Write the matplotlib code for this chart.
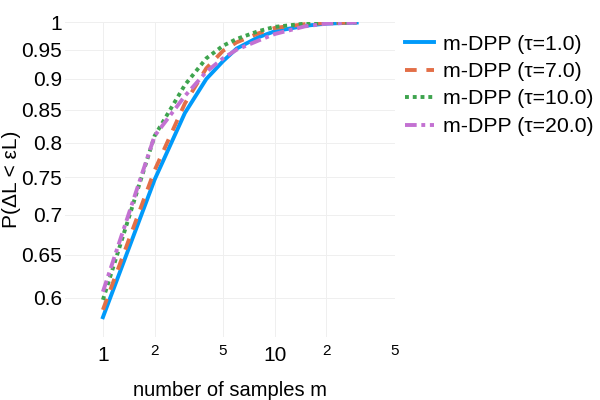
import numpy as np
import matplotlib
matplotlib.use('Agg')
import matplotlib.pyplot as plt
from matplotlib.ticker import FixedLocator, NullLocator

plt.rcParams['font.family'] = ['Liberation Sans', 'DejaVu Sans']

# number of samples m
m = [1, 2, 3, 4, 5, 6, 8, 10, 15, 20, 30]

p_tau1 = [0.579, 0.747, 0.845, 0.900, 0.930, 0.952, 0.972, 0.983, 0.993, 0.997, 0.999]
p_tau7 = [0.587, 0.760, 0.860, 0.918, 0.948, 0.963, 0.979, 0.989, 0.996, 0.998, 0.999]
p_tau10 = [0.598, 0.810, 0.890, 0.935, 0.957, 0.969, 0.983, 0.991, 0.997, 0.999, 0.999]
p_tau20 = [0.607, 0.810, 0.872, 0.912, 0.935, 0.950, 0.966, 0.978, 0.992, 0.997, 0.999]

labels = ['m-DPP (τ=1.0)', 'm-DPP (τ=7.0)', 'm-DPP (τ=10.0)', 'm-DPP (τ=20.0)']
colors = ['#009AFA', '#E36F47', '#3EA44E', '#C371D2']
styles = ['-', (0, (3.0, 2.5)), (0, (1, 1)), (0, (3, 1.2, 1, 1.2))]

ytick_vals = [0.6, 0.65, 0.7, 0.75, 0.8, 0.85, 0.9, 0.95, 1.0]
ytick_labels = ['0.6', '0.65', '0.7', '0.75', '0.8', '0.85', '0.9', '0.95', '1']

fig = plt.figure(figsize=(6, 4), dpi=100)
ax = fig.add_axes([0.108, 0.157, 0.55, 0.788])

for ys, lab, c, ls in zip([p_tau1, p_tau7, p_tau10, p_tau20], labels, colors, styles):
    ax.plot(m, ys, color=c, linestyle=ls, lw=2.8, label=lab)

ax.set_xscale('log')
ax.set_yscale('log')
ax.set_xlim(0.6, 50)
ax.set_ylim(0.558, 1.0)

ax.xaxis.set_major_locator(FixedLocator([1, 10]))
ax.xaxis.set_minor_locator(FixedLocator([2, 5, 20, 50]))
ax.set_xticklabels(['1', '10'])
ax.set_xticklabels(['2', '5', '2', '5'], minor=True)
ax.tick_params(axis='x', which='major', length=0, labelsize=15, pad=6)
ax.tick_params(axis='x', which='minor', length=0, labelsize=11, pad=5)

ax.yaxis.set_major_locator(FixedLocator(ytick_vals))
ax.yaxis.set_minor_locator(NullLocator())
ax.set_yticklabels(ytick_labels)
ax.tick_params(axis='y', which='major', length=0, labelsize=15, pad=2)

ax.grid(True, which='both', color='#efefef', lw=0.7)
ax.set_axisbelow(True)
for s in ax.spines.values():
    s.set_visible(False)

ax.set_xlabel('number of samples m', fontsize=14.5, labelpad=12)
ax.set_ylabel('P(ΔL < εL)', fontsize=15, labelpad=0)

leg = fig.legend(loc='upper left', bbox_to_anchor=(0.66, 0.935), frameon=False,
                 fontsize=15.3, handlelength=1.4, handletextpad=0.4, labelspacing=0.4,
                 borderaxespad=0)

fig.savefig('out.png', dpi=100)
